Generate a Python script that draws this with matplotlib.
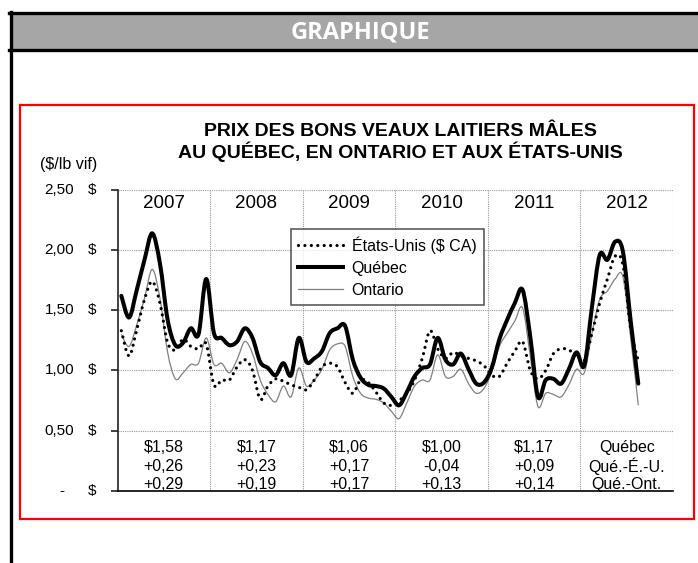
import numpy as np
import matplotlib
matplotlib.use("Agg")
import matplotlib.pyplot as plt
from matplotlib.path import Path
from matplotlib.patches import PathPatch, Rectangle
from matplotlib.lines import Line2D
import matplotlib.transforms as mtransforms

# monthly prices ($/lb vif), Jan 2007 -> Aug 2012
quebec = [1.62, 1.44, 1.67, 1.92, 2.14, 1.89, 1.42, 1.21, 1.23, 1.35, 1.30, 1.76,
          1.31, 1.27, 1.21, 1.24, 1.35, 1.27, 1.07, 1.02, 0.96, 1.06, 0.96, 1.27,
          1.07, 1.10, 1.16, 1.31, 1.35, 1.37, 1.09, 0.94, 0.88, 0.87, 0.85, 0.78,
          0.71, 0.82, 0.95, 1.02, 1.05, 1.27, 1.09, 1.05, 1.14, 1.01, 0.89, 0.90,
          1.02, 1.26, 1.42, 1.56, 1.67, 1.28, 0.78, 0.92, 0.93, 0.89, 1.01, 1.15,
          1.04, 1.53, 1.96, 1.92, 2.07, 1.99, 1.42, 0.89]
ontario = [1.30, 1.20, 1.38, 1.60, 1.84, 1.60, 1.15, 0.93, 0.98, 1.05, 1.06, 1.27,
           1.05, 1.06, 0.98, 1.09, 1.24, 1.14, 0.92, 0.80, 0.74, 0.87, 0.78, 1.02,
           0.87, 0.92, 1.01, 1.17, 1.22, 1.20, 0.95, 0.81, 0.77, 0.76, 0.73, 0.66,
           0.60, 0.73, 0.87, 0.92, 0.92, 1.13, 0.95, 0.95, 1.01, 0.89, 0.81, 0.85,
           0.99, 1.20, 1.31, 1.41, 1.52, 1.12, 0.70, 0.81, 0.80, 0.78, 0.88, 1.01,
           0.98, 1.31, 1.59, 1.66, 1.76, 1.78, 1.28, 0.71]
etats_unis = [1.33, 1.12, 1.34, 1.59, 1.74, 1.56, 1.23, 1.17, 1.26, 1.20, 1.18, 1.22,
              0.88, 0.92, 0.92, 1.03, 1.09, 1.00, 0.76, 0.87, 0.93, 0.91, 0.88, 0.86,
              0.84, 0.92, 1.03, 1.06, 1.03, 0.90, 0.81, 0.92, 0.90, 0.82, 0.73, 0.71,
              0.75, 0.81, 0.92, 1.10, 1.33, 1.18, 1.10, 1.15, 1.12, 1.10, 1.08, 1.04,
              0.96, 0.95, 1.06, 1.16, 1.24, 1.00, 0.93, 1.00, 1.14, 1.18, 1.17, 1.12,
              1.08, 1.31, 1.56, 1.76, 1.95, 1.88, 1.35, 1.08]

years = ["2007", "2008", "2009", "2010", "2011", "2012"]
moy_quebec = ["$1,58", "$1,17", "$1,06", "$1,00", "$1,17", "Québec"]
ecart_eu = ["+0,26", "+0,23", "+0,17", "-0,04", "+0,09", "Qué.-É.-U."]
ecart_ont = ["+0,29", "+0,19", "+0,17", "+0,13", "+0,14", "Qué.-Ont."]
yticks = [0, 0.5, 1.0, 1.5, 2.0, 2.5]
ytick_labels = ["-", "0,50", "1,00", "1,50", "2,00", "2,50"]

plt.rcParams['font.family'] = ['Liberation Sans', 'DejaVu Sans']

W, H = 698, 563
fig = plt.figure(figsize=(W / 100, H / 100), dpi=100)


def fx(x):
    return x / W


def fy(y):
    return 1 - y / H


# page frame and header
fig.patches.append(Rectangle((fx(10), fy(49)), fx(700) - fx(10), fy(13) - fy(49),
                             transform=fig.transFigure, facecolor="#a6a6a6", edgecolor="none"))
for (xa, ya, xb, yb) in [(9, 12.5, 700, 12.5), (9, 50, 700, 50), (11.5, 12, 11.5, 563)]:
    fig.lines.append(Line2D([fx(xa), fx(xb)], [fy(ya), fy(yb)], transform=fig.transFigure,
                            color="black", lw=2.4))
fig.text(fx(360), fy(32), "GRAPHIQUE", color="white", fontsize=17, fontweight="bold",
         family="Open Sans", ha="center", va="center")
fig.patches.append(Rectangle((fx(19.5), fy(518.5)), fx(693.5) - fx(19.5), fy(104.5) - fy(518.5),
                             transform=fig.transFigure, facecolor="none", edgecolor="red", lw=1.6))

# title
fig.text(fx(400), fy(131), "PRIX DES BONS VEAUX LAITIERS MÂLES", fontsize=14, fontweight="bold",
         ha="center", va="center")
fig.text(fx(400), fy(152), "AU QUÉBEC, EN ONTARIO ET AUX ÉTATS-UNIS", fontsize=14, fontweight="bold",
         ha="center", va="center")
fig.text(fx(68.5), fy(165), "($/lb vif)", fontsize=11.5, ha="center", va="center")

x0, x1, ytop, ybot = 117.5, 673, 190, 490.7
ax = fig.add_axes([fx(x0), fy(ybot), fx(x1) - fx(x0), fy(ytop) - fy(ybot)])
ax.set_xlim(0, 72)
ax.set_ylim(0, 2.5)
for s in ["top", "right"]:
    ax.spines[s].set_visible(False)
ax.spines["left"].set_linewidth(1.2)
ax.spines["bottom"].set_linewidth(1.2)
ax.spines["left"].set_color("#222222")
ax.set_xticks([])
ax.set_yticks(yticks)
ax.set_yticklabels([])
ax.tick_params(axis="y", length=5, width=1.2, color="#222222")

for v in yticks[1:]:
    ax.axhline(v, color="#9a9a9a", lw=0.8, ls=(0, (1, 1)), zorder=0)
for k in range(1, 7):
    ax.axvline(12 * k, color="#9a9a9a", lw=0.8, ls=(0, (1, 1)), zorder=0)

# y labels in accounting style
lab_tr = mtransforms.blended_transform_factory(fig.transFigure, ax.transData)
for v, lab in zip(yticks, ytick_labels):
    if lab == "-":
        fig.text(fx(62), v, lab, transform=lab_tr, fontsize=11, ha="center", va="center")
    else:
        fig.text(fx(74), v, lab, transform=lab_tr, fontsize=11, ha="right", va="center")
    fig.text(fx(96), v, "$", transform=lab_tr, fontsize=11, ha="right", va="center")


def smooth_path(xs, ys):
    pts = np.column_stack([xs, ys])
    n = len(pts)
    verts = [pts[0]]
    codes = [Path.MOVETO]
    for i in range(n - 1):
        p0 = pts[max(i - 1, 0)]
        p1 = pts[i]
        p2 = pts[i + 1]
        p3 = pts[min(i + 2, n - 1)]
        verts += [p1 + (p2 - p0) / 6, p2 - (p3 - p1) / 6, p2]
        codes += [Path.CURVE4] * 3
    return Path(verts, codes)


months = np.arange(len(quebec)) + 0.5
ax.add_patch(PathPatch(smooth_path(months, ontario), fill=False, edgecolor="#808080", lw=0.9, zorder=3))
ax.add_patch(PathPatch(smooth_path(months, etats_unis), fill=False, edgecolor="black", lw=2.3,
                       ls=(0, (0.01, 2.0)), capstyle="round", zorder=4))
ax.add_patch(PathPatch(smooth_path(months, quebec), fill=False, edgecolor="black", lw=2.9,
                       capstyle="round", joinstyle="round", zorder=5))

# year labels and summary values
for k in range(6):
    xc = 12 * k + 6
    ax.text(xc, 2.39, years[k], fontsize=13.5, ha="center", va="center")
    ax.text(xc, 0.356, moy_quebec[k], fontsize=11.5, ha="center", va="center")
    ax.text(xc, 0.2, ecart_eu[k], fontsize=11.5, ha="center", va="center")
    ax.text(xc, 0.05, ecart_ont[k], fontsize=11.5, ha="center", va="center")

handles = [Line2D([], [], color="black", lw=2.3, ls=(0, (0.01, 2.0)), dash_capstyle="round"),
           Line2D([], [], color="black", lw=2.9),
           Line2D([], [], color="#808080", lw=0.9)]
leg = ax.legend(handles, ["États-Unis ($ CA)", "Québec", "Ontario"], loc="upper left",
                bbox_to_anchor=((291 - x0) / (x1 - x0), (ybot - 229) / (ybot - ytop)),
                borderaxespad=0, fontsize=11.5, handlelength=2.8, handletextpad=0.55,
                labelspacing=0.45, borderpad=0.45, fancybox=False, frameon=True)
leg.get_frame().set_edgecolor("#333333")
leg.get_frame().set_linewidth(1.2)
leg.set_zorder(10)

fig.savefig("out.png", dpi=100)
